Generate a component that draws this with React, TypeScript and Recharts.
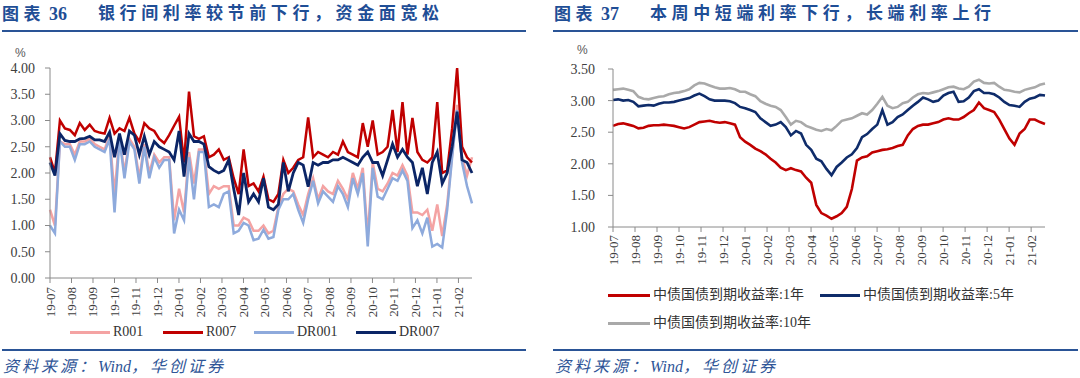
import React from "react";
import { LineChart, Line, XAxis, YAxis } from "recharts";

// ---------- shared axis data ----------
const MONTH_LABELS = [
  "19-07", "19-08", "19-09", "19-10", "19-11", "19-12",
  "20-01", "20-02", "20-03", "20-04", "20-05", "20-06",
  "20-07", "20-08", "20-09", "20-10", "20-11", "20-12",
  "21-01", "21-02",
];
const WEEKS_PER_MONTH = 4.33;

// ---------- Chart 36: interbank rates (weekly samples, %) ----------
const R001 = [
  1.3, 1.0, 2.6, 2.55, 2.55, 2.35, 2.6, 2.6, 2.65, 2.55,
  2.5, 2.45, 2.7, 1.6, 2.7, 2.0, 2.65, 2.5, 1.9, 2.55,
  2.0, 2.35, 2.2, 2.3, 2.3, 1.1, 1.7, 1.25, 2.4, 1.8,
  2.45, 2.45, 1.6, 1.75, 1.7, 1.75, 1.75, 1.0, 1.0, 1.15,
  1.1, 0.9, 0.9, 1.0, 0.85, 0.9, 1.35, 1.6, 1.7, 1.65,
  1.4, 1.2, 1.6, 1.9, 1.5, 1.75, 1.65, 1.6, 1.85, 1.7,
  1.5, 2.0, 1.7, 2.1, 0.8, 2.2, 1.7, 1.65, 1.8, 2.0,
  1.95, 2.15, 1.95, 1.25, 1.25, 1.2, 1.3, 0.9, 1.4, 0.8,
  1.4, 2.35, 3.3, 2.3, 1.95, 2.3,
];
const R007 = [
  2.3, 2.0, 3.0, 2.85, 2.82, 2.72, 2.95, 2.82, 2.92, 2.8,
  2.77, 2.75, 3.05, 2.75, 2.85, 2.8, 3.05, 2.75, 2.6, 2.95,
  2.85, 2.8, 2.65, 2.57, 2.72, 2.9, 3.07, 2.2, 3.55, 2.7,
  2.65, 2.7, 2.3, 2.35, 2.45, 2.25, 2.3, 1.9, 1.6, 2.45,
  1.75, 1.8, 1.65, 1.93, 1.5, 1.45, 1.6, 2.25, 2.0, 2.1,
  2.25, 2.3, 3.06, 2.3, 2.4, 2.35, 2.3, 2.4, 2.35, 2.6,
  2.4, 2.35, 2.3, 2.95, 2.5, 3.0, 2.35, 2.4, 2.5, 3.2,
  2.4, 3.35, 2.35, 3.05, 2.4, 2.25, 2.2, 2.3, 3.35, 2.0,
  2.05, 2.85, 4.0, 2.5, 2.3, 2.2,
];
const DR001 = [
  1.0, 0.85, 2.6, 2.5, 2.5, 2.25, 2.55, 2.55, 2.6, 2.5,
  2.45, 2.4, 2.65, 1.25, 2.65, 1.9, 2.6, 2.45, 1.8, 2.5,
  1.9, 2.3, 2.1, 2.25, 2.25, 0.85, 1.3, 1.1, 2.3, 1.5,
  2.4, 2.4, 1.35, 1.4, 1.35, 1.6, 1.65, 0.85, 0.9, 1.05,
  1.0, 0.72, 0.75, 0.92, 0.75, 0.78, 1.3, 1.5, 1.5, 1.6,
  1.3, 1.05, 1.5, 1.85, 1.42, 1.65, 1.55, 1.45, 1.75, 1.6,
  1.35, 1.9, 1.6, 2.0, 0.6, 2.1, 1.55, 1.5, 1.7, 1.9,
  1.85, 2.05, 1.85, 0.95, 1.1, 0.85, 1.15, 0.6, 0.65, 0.58,
  1.3, 2.3, 3.2, 2.2, 1.75, 1.42,
];
const DR007 = [
  2.2, 1.95, 2.75, 2.62, 2.6, 2.6, 2.65, 2.66, 2.7, 2.63,
  2.63, 2.6, 2.78, 2.3, 2.75, 2.35, 2.8, 2.72, 2.35, 2.7,
  2.35, 2.6, 2.5, 2.45, 2.4, 2.25, 2.8, 1.93, 2.75, 2.6,
  2.6, 2.55, 2.12, 2.05, 2.0, 2.05, 2.25, 1.7, 1.2, 2.0,
  1.45, 1.6, 1.45, 1.9, 1.35, 1.3, 1.4, 2.2, 1.65, 2.0,
  2.2, 2.15, 1.74, 2.2, 2.15, 2.2, 2.2, 2.25, 2.25, 2.3,
  2.25, 2.2, 2.15, 2.3, 2.4, 2.2, 2.2, 1.95, 2.25, 2.55,
  2.3, 2.45, 2.3, 2.2, 1.75, 2.1, 1.6, 2.2, 2.4, 1.8,
  2.0, 2.5, 3.17, 2.25, 2.2, 2.0,
];

// ---------- Chart 37: CGB yields (weekly samples, %) ----------
const CGB_1Y = [
  2.6, 2.63, 2.64, 2.62, 2.6, 2.56, 2.57, 2.6, 2.61, 2.61,
  2.62, 2.61, 2.6, 2.58, 2.56, 2.58, 2.62, 2.66, 2.67, 2.68,
  2.66, 2.65, 2.66, 2.64, 2.62, 2.42, 2.35, 2.3, 2.24, 2.2,
  2.15, 2.08, 2.02, 1.94, 1.9, 1.93, 1.9, 1.88, 1.78, 1.7,
  1.35, 1.22, 1.18, 1.13, 1.17, 1.22, 1.32, 1.6, 2.05, 2.1,
  2.12, 2.18, 2.2, 2.22, 2.23, 2.25, 2.28, 2.3, 2.45, 2.55,
  2.6, 2.62, 2.62, 2.64, 2.66, 2.7, 2.72, 2.7, 2.7, 2.74,
  2.8, 2.85, 2.97, 2.88, 2.85, 2.82, 2.7, 2.55, 2.4, 2.3,
  2.48, 2.55, 2.7, 2.7, 2.66, 2.63,
];
const CGB_5Y = [
  3.01, 3.02, 3.0, 3.01, 2.98, 2.91, 2.92, 2.93, 2.92, 2.95,
  2.97, 2.97, 2.98, 3.0, 3.02, 3.04, 3.08, 3.11, 3.07, 3.02,
  3.0, 3.0, 3.0, 2.99, 2.96, 2.9, 2.88, 2.85, 2.82, 2.72,
  2.66, 2.6, 2.62, 2.66, 2.58, 2.45, 2.52, 2.48, 2.3, 2.22,
  2.08, 2.04, 1.92, 1.82, 1.95, 2.02, 2.1, 2.15, 2.25, 2.42,
  2.47, 2.55, 2.62, 2.85, 2.62, 2.66, 2.74, 2.78, 2.85, 2.92,
  2.98, 3.05, 3.02, 2.98, 3.0, 3.08, 3.12, 3.14, 2.98, 2.99,
  3.05, 3.15, 3.18, 3.12, 3.12, 3.1, 3.05, 2.98, 2.93, 2.92,
  2.9, 2.98, 3.03, 3.05, 3.09, 3.08,
];
const CGB_10Y = [
  3.17, 3.18, 3.19, 3.17, 3.15, 3.06, 3.03, 3.02, 3.04, 3.06,
  3.07, 3.1, 3.12, 3.13, 3.15, 3.18, 3.24, 3.28, 3.27, 3.24,
  3.21, 3.19, 3.19, 3.2, 3.18, 3.14, 3.14, 3.1, 3.07, 2.99,
  2.95, 2.92, 2.9, 2.85, 2.74, 2.62, 2.68, 2.66, 2.6, 2.57,
  2.54, 2.52, 2.55, 2.53, 2.6, 2.68, 2.7, 2.72, 2.76, 2.8,
  2.78, 2.85, 2.95, 3.06, 2.92, 2.88, 2.9, 2.96, 2.98, 3.05,
  3.1, 3.12, 3.11, 3.13, 3.15, 3.18, 3.21, 3.22, 3.19, 3.18,
  3.22, 3.3, 3.33, 3.28, 3.27, 3.28, 3.22, 3.17, 3.16, 3.14,
  3.13, 3.17, 3.19, 3.21, 3.25, 3.27,
];

const LEFT_Y_TICKS = [0, 0.5, 1, 1.5, 2, 2.5, 3, 3.5, 4];
const RIGHT_Y_TICKS = [1, 1.5, 2, 2.5, 3, 3.5];
const X_TICKS = MONTH_LABELS.map((_, i) => i);

const leftData = R001.map((v, i) => ({
  t: i / WEEKS_PER_MONTH,
  r001: v,
  r007: R007[i],
  dr001: DR001[i],
  dr007: DR007[i],
}));
const rightData = CGB_1Y.map((v, i) => ({
  t: i / WEEKS_PER_MONTH,
  y1: v,
  y5: CGB_5Y[i],
  y10: CGB_10Y[i],
}));
const X_MAX = (R001.length - 1) / WEEKS_PER_MONTH;

// ---------- styles ----------
const SERIF = "'Liberation Serif', 'Noto Sans CJK SC', serif";
const AXIS_COLOR = "#8a8a8a";
const TEXT_COLOR = "#404040";
const BLUE = "#1f4e96";
const RULE = "#2a5496";

const C_R001 = "#f4a3a3";
const C_R007 = "#c00000";
const C_DR001 = "#8eaadc";
const C_DR007 = "#0b2566";
const C_1Y = "#c00000";
const C_5Y = "#0f2c6a";
const C_10Y = "#a9a9a9";

const MonthTick = (props: any) => {
  const { x, y, payload } = props;
  return (
    <text
      x={x}
      y={y}
      transform={`rotate(-90 ${x} ${y})`}
      textAnchor="end"
      dominantBaseline="central"
      fontSize={13}
      fontFamily={SERIF}
      fill={TEXT_COLOR}
    >
      {MONTH_LABELS[payload.value]}
    </text>
  );
};

const abs = (s: React.CSSProperties): React.CSSProperties => ({
  position: "absolute",
  ...s,
});

const titleStyle: React.CSSProperties = {
  fontFamily: SERIF,
  fontWeight: 700,
  fontSize: 17,
  color: BLUE,
  lineHeight: "20px",
  whiteSpace: "nowrap",
};

const Title = ({ x, num, text }: { x: number; num: string; text: string }) => (
  <>
    <div style={abs({ left: x, top: 4, ...titleStyle })}>
      <span style={{ letterSpacing: 4.5 }}>图表</span>
      <span style={{ marginLeft: 4, fontSize: 18 }}>{num}</span>
    </div>
    <div style={abs({ left: x + 96, top: 4, letterSpacing: 4.6, ...titleStyle })}>{text}</div>
  </>
);

const Rule = ({ x1, x2, y }: { x1: number; x2: number; y: number }) => (
  <div style={abs({ left: x1, top: y, width: x2 - x1, height: 2, background: RULE })} />
);

const Source = ({ x }: { x: number }) => (
  <div
    style={abs({
      left: x,
      top: 357,
      fontFamily: SERIF,
      fontStyle: "italic",
      fontSize: 16,
      color: "#2f5597",
      lineHeight: "20px",
      whiteSpace: "nowrap",
    })}
  >
    <span style={{ letterSpacing: 3 }}>资料来源：</span>
    <span>Wind</span>
    <span style={{ letterSpacing: 3 }}>，华创证券</span>
  </div>
);

const LegendItem = ({
  x,
  y,
  color,
  label,
  lineW = 40,
}: {
  x: number;
  y: number;
  color: string;
  label: string;
  lineW?: number;
}) => (
  <>
    <div style={abs({ left: x, top: y - 1.5, width: lineW, height: 3, background: color })} />
    <div
      style={abs({
        left: x + lineW + 3,
        top: y - 9,
        fontFamily: SERIF,
        fontSize: 14,
        color: "#333",
        lineHeight: "18px",
        whiteSpace: "nowrap",
      })}
    >
      {label}
    </div>
  </>
);

const Percent = ({ x, y }: { x: number; y: number }) => (
  <div
    style={abs({
      left: x - 6,
      top: y - 8,
      fontFamily: "'Liberation Sans', Arial, sans-serif",
      fontSize: 12,
      color: "#595959",
      lineHeight: "16px",
    })}
  >
    %
  </div>
);

export default function App() {
  const yTick = { fontSize: 14, fontFamily: SERIF, fill: TEXT_COLOR };
  return (
    <div
      style={{
        position: "absolute",
        left: 0,
        top: 0,
        width: 1080,
        height: 378,
        background: "#fff",
        overflow: "hidden",
      }}
    >
      <Title x={2} num="36" text="银行间利率较节前下行，资金面宽松" />
      <Title x={554} num="37" text="本周中短端利率下行，长端利率上行" />
      <Rule x1={2} x2={526} y={30} />
      <Rule x1={553} x2={1078} y={30} />
      <Percent x={21} y={53} />
      <Percent x={583} y={50} />

      <div style={abs({ left: 0, top: 0 })}>
        <LineChart
          width={540}
          height={378}
          data={leftData}
          margin={{ top: 68, right: 68, bottom: 60, left: 0 }}
        >
          <XAxis
            dataKey="t"
            type="number"
            domain={[0, X_MAX]}
            ticks={X_TICKS}
            interval={0}
            height={40}
            tickSize={5}
            tickMargin={4}
            tick={<MonthTick />}
            stroke={AXIS_COLOR}
            tickLine={{ stroke: AXIS_COLOR }}
          />
          <YAxis
            type="number"
            domain={[0, 4]}
            ticks={LEFT_Y_TICKS}
            interval={0}
            width={50}
            tickSize={5}
            tickMargin={10}
            tickFormatter={(v: number) => v.toFixed(2)}
            tick={yTick}
            stroke={AXIS_COLOR}
            tickLine={{ stroke: AXIS_COLOR }}
          />
          <Line type="linear" dataKey="r001" stroke={C_R001} strokeWidth={2.5} dot={false} isAnimationActive={false} />
          <Line type="linear" dataKey="r007" stroke={C_R007} strokeWidth={2.5} dot={false} isAnimationActive={false} />
          <Line type="linear" dataKey="dr001" stroke={C_DR001} strokeWidth={2.5} dot={false} isAnimationActive={false} />
          <Line type="linear" dataKey="dr007" stroke={C_DR007} strokeWidth={2.8} dot={false} isAnimationActive={false} />
        </LineChart>
      </div>

      <div style={abs({ left: 540, top: 0 })}>
        <LineChart
          width={540}
          height={378}
          data={rightData}
          margin={{ top: 69, right: 35, bottom: 111, left: 0 }}
        >
          <XAxis
            dataKey="t"
            type="number"
            domain={[0, X_MAX]}
            ticks={X_TICKS}
            interval={0}
            height={40}
            tickSize={5}
            tickMargin={3}
            tick={<MonthTick />}
            stroke={AXIS_COLOR}
            tickLine={{ stroke: AXIS_COLOR }}
          />
          <YAxis
            type="number"
            domain={[1, 3.5]}
            ticks={RIGHT_Y_TICKS}
            interval={0}
            width={73}
            tickSize={5}
            tickMargin={13}
            tickFormatter={(v: number) => v.toFixed(2)}
            tick={yTick}
            stroke={AXIS_COLOR}
            tickLine={{ stroke: AXIS_COLOR }}
          />
          <Line type="linear" dataKey="y10" stroke={C_10Y} strokeWidth={2.6} dot={false} isAnimationActive={false} />
          <Line type="linear" dataKey="y5" stroke={C_5Y} strokeWidth={2.6} dot={false} isAnimationActive={false} />
          <Line type="linear" dataKey="y1" stroke={C_1Y} strokeWidth={2.6} dot={false} isAnimationActive={false} />
        </LineChart>
      </div>

      <LegendItem x={70} y={332} color={C_R001} label="R001" />
      <LegendItem x={163} y={332} color={C_R007} label="R007" />
      <LegendItem x={254} y={332} color={C_DR001} label="DR001" />
      <LegendItem x={356} y={332} color={C_DR007} label="DR007" />

      <LegendItem x={608} y={295} color={C_1Y} label="中债国债到期收益率:1年" lineW={42} />
      <LegendItem x={820} y={295} color={C_5Y} label="中债国债到期收益率:5年" lineW={40} />
      <LegendItem x={608} y={323} color={C_10Y} label="中债国债到期收益率:10年" lineW={42} />

      <Rule x1={2} x2={526} y={349} />
      <Rule x1={553} x2={1078} y={349} />
      <Source x={3} />
      <Source x={555} />
    </div>
  );
}
